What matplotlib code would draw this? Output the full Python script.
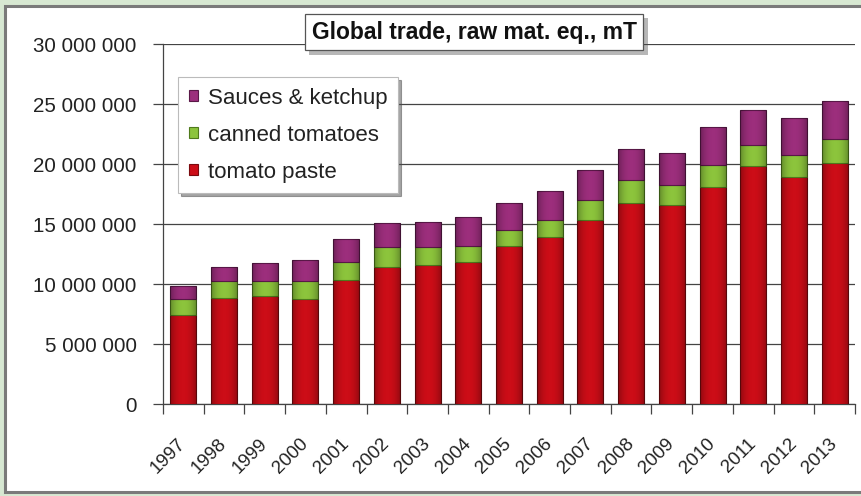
import matplotlib
matplotlib.use("Agg")
import matplotlib.pyplot as plt
import matplotlib.patheffects as pe
import matplotlib.transforms as mtransforms
from matplotlib.patches import Rectangle
import numpy as np

plt.rcParams['font.family'] = ['Liberation Sans', 'DejaVu Sans']

years = ["1997", "1998", "1999", "2000", "2001", "2002", "2003", "2004", "2005",
         "2006", "2007", "2008", "2009", "2010", "2011", "2012", "2013"]
tomato_paste = [7.4, 8.8, 9.0, 8.75, 10.3, 11.4, 11.6, 11.8, 13.2,
                13.9, 15.3, 16.75, 16.6, 18.1, 19.8, 18.9, 20.1]
canned_tomatoes = [1.35, 1.45, 1.25, 1.5, 1.55, 1.7, 1.5, 1.4, 1.3,
                   1.4, 1.7, 1.95, 1.65, 1.8, 1.8, 1.85, 2.0]
sauces_ketchup = [1.1, 1.15, 1.5, 1.75, 1.9, 2.0, 2.1, 2.4, 2.25,
                  2.45, 2.5, 2.55, 2.65, 3.2, 2.9, 3.05, 3.15]
y_ticks = [0, 5, 10, 15, 20, 25, 30]
y_tick_labels = ["0", "5 000 000", "10 000 000", "15 000 000", "20 000 000",
                 "25 000 000", "30 000 000"]
title = "Global trade, raw mat. eq., mT"

W, H = 861, 496
fig = plt.figure(figsize=(W / 100, H / 100), dpi=100)
fig.patch.set_facecolor('#d7e8d2')
# inner white panel with gray frame
fig.patches.append(Rectangle((5 / W, 4 / H), (W - 3) / W, (H - 10) / H,
                             transform=fig.transFigure, facecolor='white',
                             edgecolor='#7a7a7a', linewidth=2.2, zorder=-10))

ax = fig.add_axes([163 / W, 1 - 404 / H, 692 / W, 360 / H])
ax.patch.set_alpha(0)

x = np.arange(len(years))
paste = np.array(tomato_paste)
canned = np.array(canned_tomatoes)
sauce = np.array(sauces_ketchup)

bw = 0.64
c_red, c_green, c_purple = '#cc0d17', '#8cc43c', '#9c2e7c'
b1 = ax.bar(x, paste, bw, color=c_red, edgecolor='#7a0a0f', linewidth=0.8,
            label='tomato paste', zorder=3)
b2 = ax.bar(x, canned, bw, bottom=paste, color=c_green, edgecolor='#4f7a1c',
            linewidth=0.8, label='canned tomatoes', zorder=3)
b3 = ax.bar(x, sauce, bw, bottom=paste + canned, color=c_purple,
            edgecolor='#5a1848', linewidth=0.8, label='Sauces & ketchup', zorder=3)

# subtle cylindrical shading clipped to each bar segment
u = np.linspace(-1, 1, 64)
shade = np.zeros((1, 64, 4))
shade[0, :, 3] = 0.30 * np.abs(u) ** 2.2
for cont in (b1, b2, b3):
    for p in cont.patches:
        x0, y0 = p.get_x(), p.get_y()
        im = ax.imshow(shade, extent=(x0, x0 + p.get_width(), y0, y0 + p.get_height()),
                       aspect='auto', interpolation='bilinear', zorder=3.5)
        im.set_clip_path(p)

ax.set_xlim(-0.5, len(years) - 0.5)
ax.set_ylim(0, 30)
ax.set_yticks(y_ticks)
ax.set_yticklabels(y_tick_labels, fontsize=14.8, color='#222222')
ax.yaxis.grid(True, color='#444444', linewidth=0.9, zorder=1)
ax.set_axisbelow(True)

ax.set_xticks(x)
ax.set_xticklabels(years, rotation=45, ha='right', va='center',
                   rotation_mode='anchor', fontsize=13.5, color='#222222')
off = mtransforms.ScaledTranslation(-8 / 100, 0, fig.dpi_scale_trans)
for lbl in ax.get_xticklabels():
    lbl.set_transform(lbl.get_transform() + off)
ax.set_xticks(np.arange(-0.5, len(years)), minor=True)
ax.tick_params(axis='x', which='major', length=0, pad=27)
ax.tick_params(axis='x', which='minor', length=7, width=0.9, color='#444444')
ax.tick_params(axis='y', length=7, width=0.9, color='#444444', pad=12)

for s in ['top', 'right']:
    ax.spines[s].set_visible(False)
for s in ['left', 'bottom']:
    ax.spines[s].set_color('#444444')
    ax.spines[s].set_linewidth(0.9)

handles = [b3, b2, b1]
leg = ax.legend(handles, [h.get_label() for h in handles],
                loc='upper left', bbox_to_anchor=(15 / 692, (404 - 77) / 360),
                borderaxespad=0, fontsize=16, frameon=True, fancybox=False,
                shadow=True, handlelength=0.4, handleheight=0.4,
                handletextpad=0.45, labelspacing=0.72, borderpad=0.48)
leg.get_frame().set_edgecolor('#bbbbbb')
leg.get_frame().set_linewidth(0.8)
for t in leg.get_texts():
    t.set_color('#222222')

t = fig.text(474 / W, 1 - 32 / H, title, ha='center', va='center',
             fontsize=16.5, fontweight='bold', color='#111111',
             bbox=dict(boxstyle='square,pad=0.3', fc='white', ec='#555555', lw=0.9))
t.get_bbox_patch().set_path_effects([pe.SimplePatchShadow(offset=(3, -3), alpha=0.4),
                                     pe.Normal()])

fig.savefig('out.png', dpi=100, facecolor=fig.get_facecolor())
